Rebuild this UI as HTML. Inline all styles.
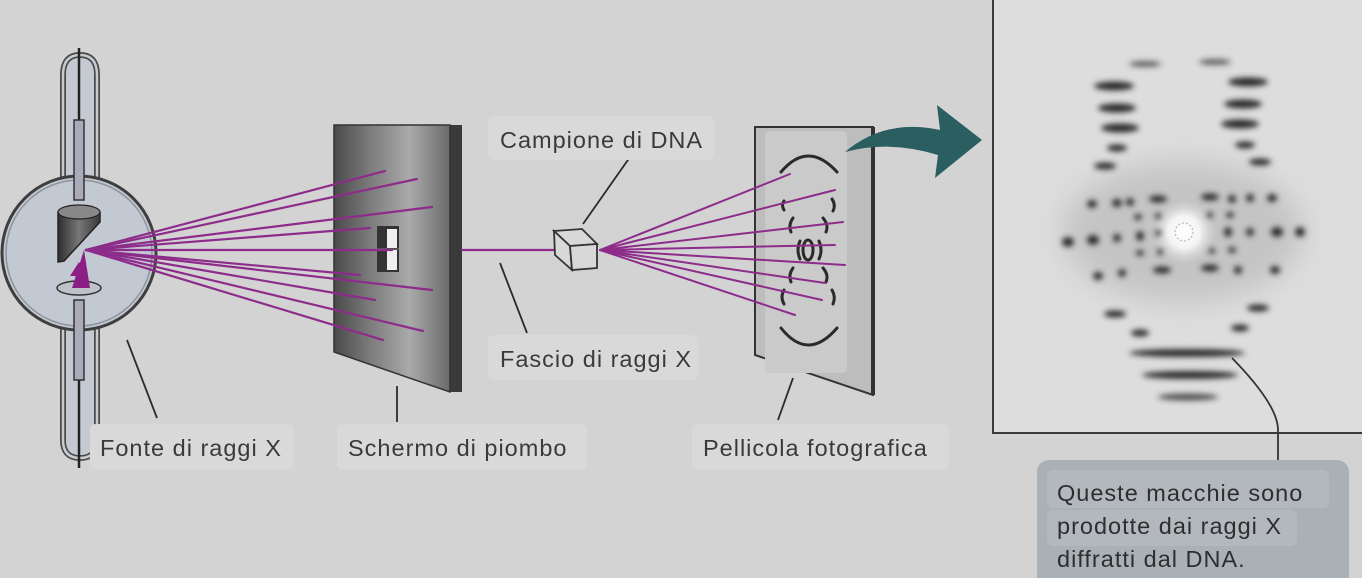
<!DOCTYPE html>
<html><head><meta charset="utf-8"><style>
html,body{margin:0;padding:0;width:1362px;height:578px;overflow:hidden;background:#d3d3d3}
svg{display:block}
text{font-family:"Liberation Sans","DejaVu Sans",sans-serif;fill:#3a3a3a;letter-spacing:1px}
</style></head><body>
<svg width="1362" height="578" viewBox="0 0 1362 578" xmlns="http://www.w3.org/2000/svg">
<defs>
<linearGradient id="scr" x1="0" x2="1" y1="0" y2="0">
<stop offset="0" stop-color="#4a4a4a"/><stop offset="0.3" stop-color="#7a7a7a"/><stop offset="0.65" stop-color="#aaaaaa"/><stop offset="1" stop-color="#6a6a6a"/></linearGradient>
<linearGradient id="cyl" x1="0" x2="1"><stop offset="0" stop-color="#2f2f2f"/><stop offset="0.5" stop-color="#777"/><stop offset="1" stop-color="#3a3a3a"/></linearGradient>
<filter id="bl" x="-50%" y="-50%" width="200%" height="200%"><feGaussianBlur stdDeviation="2.8"/></filter>
<filter id="bl2" x="-50%" y="-50%" width="200%" height="200%"><feGaussianBlur stdDeviation="14"/></filter>
<radialGradient id="halo"><stop offset="0" stop-color="#fff"/><stop offset="0.5" stop-color="#f4f4f4"/><stop offset="1" stop-color="#d8d8d8" stop-opacity="0"/></radialGradient>
</defs>

<!-- X-ray tube -->
<path d="M63,180 L63,75 Q63,55 80,55 Q97,55 97,75 L97,180" stroke-width="6" stroke="#4a4a4a" fill="none"/>
<path d="M63,180 L63,75 Q63,55 80,55 Q97,55 97,75 L97,180" stroke-width="2.5" stroke="#c8ccd2" fill="none"/>
<path d="M63,320 L63,440 Q63,458 80,458 Q97,458 97,440 L97,320" stroke-width="6" stroke="#4a4a4a" fill="none"/>
<path d="M63,320 L63,440 Q63,458 80,458 Q97,458 97,440 L97,320" stroke-width="2.5" stroke="#c8ccd2" fill="none"/>
<path d="M66,180 L66,75 Q66,58 80,58 Q94,58 94,75 L94,180Z" fill="#c5cad2"/>
<path d="M66,320 L66,440 Q66,455 80,455 Q94,455 94,440 L94,320Z" fill="#c5cad2"/>
<circle cx="79" cy="253" r="77" fill="#c3c9d2" stroke="#3e3e3e" stroke-width="3"/>
<circle cx="79" cy="253" r="73" fill="none" stroke="#8e949c" stroke-width="1.5"/>
<line x1="79" y1="48" x2="79" y2="190" stroke="#222" stroke-width="2.5"/>
<line x1="79" y1="310" x2="79" y2="468" stroke="#222" stroke-width="2.5"/>
<rect x="74" y="120" width="10" height="80" fill="#aab" stroke="#333" stroke-width="1.5"/>
<rect x="74" y="300" width="10" height="80" fill="#aab" stroke="#333" stroke-width="1.5"/>
<path d="M58,212 Q79,200 100,212 L100,222 L64,261 L58,262 Z" fill="url(#cyl)" stroke="#222" stroke-width="1.5"/>
<ellipse cx="79" cy="212" rx="21" ry="7" fill="#888" stroke="#222" stroke-width="1.2"/>
<ellipse cx="79" cy="288" rx="22" ry="7" fill="#bfc3c8" stroke="#333" stroke-width="1.5"/>
<path d="M72,288 L84,250 L90,288 Z" fill="#8b1f86"/>
<path d="M79,262 L70,276 L88,276 Z" fill="#8b1f86"/>

<!-- Lead screen -->
<path d="M450,125 L462,125 L462,392 L450,392 Z" fill="#3a3a3a"/>
<path d="M334,125 L450,125 L450,392 L334,352 Z" fill="url(#scr)" stroke="#333" stroke-width="1.5"/>
<rect x="377" y="226" width="22" height="46" fill="#333"/>
<rect x="387" y="229" width="10" height="41" fill="#eee"/>
<line x1="377" y1="249" x2="399" y2="249" stroke="#555" stroke-width="2"/>

<g stroke="#8d2c8a" stroke-width="2.2" stroke-linecap="round">
<line x1="86" y1="250" x2="385" y2="171"/>
<line x1="86" y1="250" x2="417" y2="179"/>
<line x1="86" y1="250" x2="432" y2="207"/>
<line x1="86" y1="250" x2="370" y2="228"/>
<line x1="86" y1="250" x2="392" y2="250"/>
<line x1="86" y1="250" x2="360" y2="275"/>
<line x1="86" y1="250" x2="432" y2="290"/>
<line x1="86" y1="250" x2="375" y2="300"/>
<line x1="86" y1="250" x2="423" y2="331"/>
<line x1="86" y1="250" x2="383" y2="340"/>
<line x1="462" y1="250" x2="560" y2="250"/>
</g>

<!-- Film -->
<path d="M755,127 L873,127 L873,395 L755,355 Z" fill="#bdbdbd" stroke="#333" stroke-width="2"/>
<line x1="873" y1="127" x2="873" y2="395" stroke="#333" stroke-width="4"/>
<rect x="765" y="131" width="82" height="242" rx="4" fill="#cacaca"/>
<g stroke="#2a2a2a" stroke-width="3" fill="none" stroke-linecap="round">
<path d="M781,172 Q808,140 837,172"/>
<path d="M781,328 Q808,362 837,328"/>
<path d="M784,201 Q781,205 784,210"/><path d="M832,199 Q836,205 833,211"/>
<path d="M793,218 Q788,225 791,232"/><path d="M823,218 Q829,225 826,232"/>
<path d="M800,241 Q796,250 800,259"/><path d="M819,241 Q823,250 819,259"/>
<ellipse cx="808" cy="250" rx="5" ry="10"/>
<path d="M793,268 Q788,275 791,282"/><path d="M823,268 Q829,275 826,282"/>
<path d="M784,290 Q780,297 784,304"/><path d="M832,290 Q836,297 833,304"/>
</g>
<g stroke="#333" stroke-width="1.8" fill="#d8d8d8">
<path d="M554,231 L582,229 L597,244 L570,246 Z"/>
<path d="M554,231 L570,246 L572,270 L555,255 Z"/>
<path d="M570,246 L597,244 L597,268 L572,270 Z"/>
</g>
<g stroke="#8d2c8a" stroke-width="2" stroke-linecap="round">
<line x1="600" y1="250" x2="790" y2="174"/>
<line x1="600" y1="250" x2="835" y2="190"/>
<line x1="600" y1="250" x2="843" y2="222"/>
<line x1="600" y1="250" x2="835" y2="245"/>
<line x1="600" y1="250" x2="845" y2="265"/>
<line x1="600" y1="250" x2="825" y2="283"/>
<line x1="600" y1="250" x2="822" y2="300"/>
<line x1="600" y1="250" x2="795" y2="315"/>
</g>
<path d="M845,152 Q885,118 940,130 L937,105 L982,140 L935,178 L938,155 Q890,140 845,152 Z" fill="#2b5e60"/>

<g stroke="#2a2a2a" stroke-width="1.8">
<line x1="127" y1="340" x2="157" y2="418"/>
<line x1="397" y1="386" x2="397" y2="422"/>
<line x1="583" y1="224" x2="630" y2="157"/>
<line x1="500" y1="263" x2="527" y2="333"/>
<line x1="793" y1="378" x2="778" y2="420"/>
</g>

<g fill="#d9d9d9">
<rect x="90" y="424" width="204" height="46" rx="6"/>
<rect x="337" y="424" width="250" height="46" rx="6"/>
<rect x="692" y="424" width="257" height="46" rx="6"/>
<rect x="488" y="116" width="226" height="44" rx="6"/>
<rect x="488" y="335" width="210" height="45" rx="6"/>
</g>
<g font-size="23.5">
<text x="100" y="456">Fonte di raggi X</text>
<text x="348" y="456">Schermo di piombo</text>
<text x="703" y="456">Pellicola fotografica</text>
<text x="500" y="148">Campione di DNA</text>
<text x="500" y="367">Fascio di raggi X</text>
</g>

<!-- diffraction photo -->
<rect x="993" y="-2" width="372" height="435" fill="#dddddd" stroke="#3a3a3a" stroke-width="2"/>
<ellipse cx="1183" cy="232" rx="120" ry="70" fill="#c4c4c4" filter="url(#bl2)"/>
<circle cx="1184" cy="232" r="32" fill="url(#halo)"/>
<circle cx="1184" cy="232" r="9" fill="none" stroke="#bbb" stroke-width="1.2" stroke-dasharray="2 2"/>
<g fill="#2a2a2a" filter="url(#bl)">
<ellipse cx="1145" cy="64" rx="16" ry="3" opacity="0.7"/><ellipse cx="1215" cy="62" rx="16" ry="3" opacity="0.7"/>
<ellipse cx="1114" cy="86" rx="20" ry="4.5"/><ellipse cx="1248" cy="82" rx="20" ry="4.5"/>
<ellipse cx="1117" cy="108" rx="19" ry="4.5"/><ellipse cx="1243" cy="104" rx="19" ry="4.5"/>
<ellipse cx="1120" cy="128" rx="19" ry="4.5"/><ellipse cx="1240" cy="124" rx="19" ry="4.5"/>
<ellipse cx="1117" cy="148" rx="10" ry="3.5"/><ellipse cx="1245" cy="145" rx="10" ry="3.5"/>
<ellipse cx="1105" cy="166" rx="11" ry="3.5"/><ellipse cx="1260" cy="162" rx="11" ry="3.5"/>
<ellipse cx="1158" cy="199" rx="9" ry="3.5"/><ellipse cx="1210" cy="197" rx="9" ry="3.5"/>
<ellipse cx="1092" cy="204" rx="5" ry="4"/><ellipse cx="1117" cy="203" rx="5" ry="4"/><ellipse cx="1130" cy="202" rx="4" ry="4"/>
<ellipse cx="1232" cy="199" rx="4" ry="4"/><ellipse cx="1250" cy="198" rx="4" ry="4"/><ellipse cx="1272" cy="198" rx="5" ry="4"/>
<ellipse cx="1138" cy="217" rx="4" ry="3"/><ellipse cx="1158" cy="216" rx="3" ry="3"/><ellipse cx="1210" cy="215" rx="3" ry="3"/><ellipse cx="1230" cy="215" rx="4" ry="3"/>
<ellipse cx="1068" cy="242" rx="6" ry="5"/><ellipse cx="1093" cy="240" rx="6" ry="5"/><ellipse cx="1117" cy="238" rx="4" ry="4"/><ellipse cx="1140" cy="236" rx="4" ry="5"/><ellipse cx="1158" cy="233" rx="3" ry="3"/>
<ellipse cx="1228" cy="232" rx="4" ry="5"/><ellipse cx="1250" cy="232" rx="4" ry="4"/><ellipse cx="1277" cy="232" rx="6" ry="5"/><ellipse cx="1300" cy="232" rx="5" ry="5"/>
<ellipse cx="1140" cy="253" rx="4" ry="3"/><ellipse cx="1160" cy="252" rx="3" ry="3"/><ellipse cx="1212" cy="251" rx="3" ry="3"/><ellipse cx="1232" cy="250" rx="4" ry="3"/>
<ellipse cx="1162" cy="270" rx="9" ry="3.5"/><ellipse cx="1210" cy="268" rx="9" ry="3.5"/>
<ellipse cx="1098" cy="276" rx="5" ry="4"/><ellipse cx="1122" cy="273" rx="4" ry="4"/><ellipse cx="1238" cy="270" rx="4" ry="4"/><ellipse cx="1275" cy="270" rx="5" ry="4"/>
<ellipse cx="1115" cy="314" rx="11" ry="3.5"/><ellipse cx="1258" cy="308" rx="11" ry="3.5"/>
<ellipse cx="1140" cy="333" rx="9" ry="3.5"/><ellipse cx="1240" cy="328" rx="9" ry="3.5"/>
<ellipse cx="1187" cy="353" rx="58" ry="4"/>
<ellipse cx="1190" cy="375" rx="48" ry="4"/>
<ellipse cx="1188" cy="397" rx="30" ry="3.5" opacity="0.8"/>
</g>
<path d="M1232,358 Q1278,405 1278,430 L1278,462" stroke="#333" stroke-width="1.8" fill="none"/>

<rect x="1037" y="460" width="312" height="130" rx="12" fill="#a9b0b6"/>
<rect x="1047" y="470" width="282" height="38" rx="6" fill="#b2b8bd"/>
<rect x="1047" y="510" width="250" height="36" rx="6" fill="#b2b8bd"/>
<g font-size="23.5">
<text x="1057" y="501" style="fill:#2e2e2e">Queste macchie sono</text>
<text x="1057" y="534" style="fill:#2e2e2e">prodotte dai raggi X</text>
<text x="1057" y="567" style="fill:#2e2e2e">diffratti dal DNA.</text>
</g>
</svg>
</body></html>
